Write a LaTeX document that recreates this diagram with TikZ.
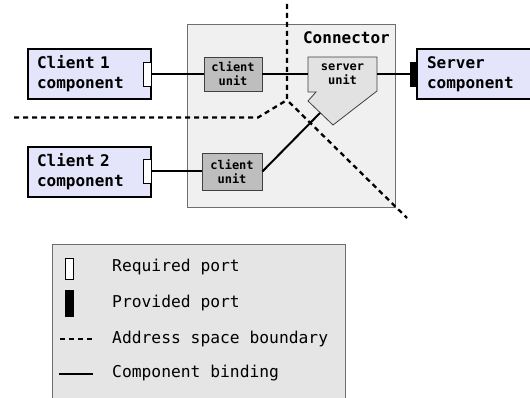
\documentclass[tikz,border=0pt]{standalone}
\usepackage{fontspec}
\newfontfamily\dvm{DejaVu Sans Mono}
\definecolor{compfill}{RGB}{228,228,250}
\definecolor{connfill}{RGB}{240,240,240}
\definecolor{unitfill}{RGB}{190,190,190}
\definecolor{sufill}{RGB}{226,226,226}
\definecolor{legfill}{RGB}{229,229,229}
\definecolor{grayline}{RGB}{110,110,110}
\begin{document}
\begin{tikzpicture}[x=1pt,y=-1pt,
  comp/.style={draw=black, line width=2.4pt, fill=compfill, minimum height=50pt,
    inner xsep=9pt, inner ysep=0pt, text width=105pt, align=left,
    font=\dvm\bfseries\fontsize{16}{20}\selectfont},
  unitbox/.style={draw=black!75, line width=0.8pt, fill=unitfill, inner sep=0pt,
    align=center, font=\dvm\bfseries\fontsize{12}{14}\selectfont},
  reqport/.style={draw=black, line width=0.9pt, fill=white, minimum width=8pt,
    minimum height=24pt, inner sep=0pt},
  provport/.style={draw=black, line width=0.5pt, fill=black, minimum width=7pt,
    minimum height=24pt, inner sep=0pt},
  bind/.style={line width=2pt},
  boundary/.style={line width=2.3pt, dash pattern=on 5pt off 4pt},
  legtext/.style={anchor=west, inner sep=0pt, font=\dvm\fontsize{16.3}{20}\selectfont}
]
\useasboundingbox (0,0) rectangle (530,398);
% connector box
\node[draw=grayline, line width=1pt, fill=connfill, minimum width=208pt,
  minimum height=183pt, inner sep=0pt] (conn) at (291,116.5) {};
\node[anchor=east, inner sep=0pt, font=\dvm\bfseries\fontsize{16}{20}\selectfont]
  (connlbl) at (390,38) {Connector};
% components
\node[comp] (c1) at (89.5,74) {Client 1\\component};
\node[comp] (c2) at (89.5,172) {Client 2\\component};
\node[comp, inner xsep=10pt, text width=103pt] (sc) at (478.5,74) {Server\\component};
% ports
\node[reqport] (p1) at (147,74) {};
\node[reqport] (p2) at (147,171.5) {};
\node[provport] (pp) at (413.5,74) {};
% client units
\node[unitbox, minimum width=58pt, minimum height=34pt] (cu1) at (233,74) {client\\unit};
\node[unitbox, minimum width=60pt, minimum height=37pt] (cu2) at (232,171.5) {client\\unit};
% server unit
\draw[draw=black!75, line width=0.8pt, fill=sufill]
  (308,57) -- (377,57) -- (377,91) -- (333,125) -- (308,101) -- (316,92) -- (308,92) -- cycle;
\node[inner sep=0pt, minimum width=69pt, minimum height=34pt, align=center,
  font=\dvm\bfseries\fontsize{12}{14}\selectfont] (su) at (342.5,74) {server\\unit};
\coordinate (sutip) at (320,113);
% bindings
\draw[bind] (p1.east) -- (cu1.west);
\draw[bind] (cu1.east) -- (su.west);
\draw[bind] (su.east) -- (pp.west);
\draw[bind] (p2.east) -- (cu2.west);
\draw[bind] (cu2.east) -- (sutip);
% address space boundaries
\coordinate (bx) at (287,100);
\coordinate (btop) at (287,4);
\coordinate (bend) at (407,218);
\coordinate (bleft) at (14,117.5);
\coordinate (bbend) at (258,117.5);
\draw[boundary] (btop) -- (bx) -- (bend);
\draw[boundary] (bleft) -- (bbend) -- (bx);
% legend
\node[draw=grayline, line width=1pt, fill=legfill, minimum width=293pt,
  minimum height=170pt, inner sep=0pt] (leg) at (198.5,329) {};
\node[reqport, minimum height=21pt] (lreq) at (69,268.5) {};
\node[provport, minimum width=8pt, minimum height=26pt] (lprov) at (69,303) {};
\coordinate (ld1) at (60,339);
\coordinate (ld2) at (94,339);
\coordinate (ls1) at (59,373.5);
\coordinate (ls2) at (93,373.5);
\draw[boundary] (ld1) -- (ld2);
\draw[bind] (ls1) -- (ls2);
\node[legtext] (t1) at (112,267) {Required port};
\node[legtext] (t2) at (112,303) {Provided port};
\node[legtext] (t3) at (112,339) {Address space boundary};
\node[legtext] (t4) at (112,373.5) {Component binding};
\end{tikzpicture}
\end{document}
